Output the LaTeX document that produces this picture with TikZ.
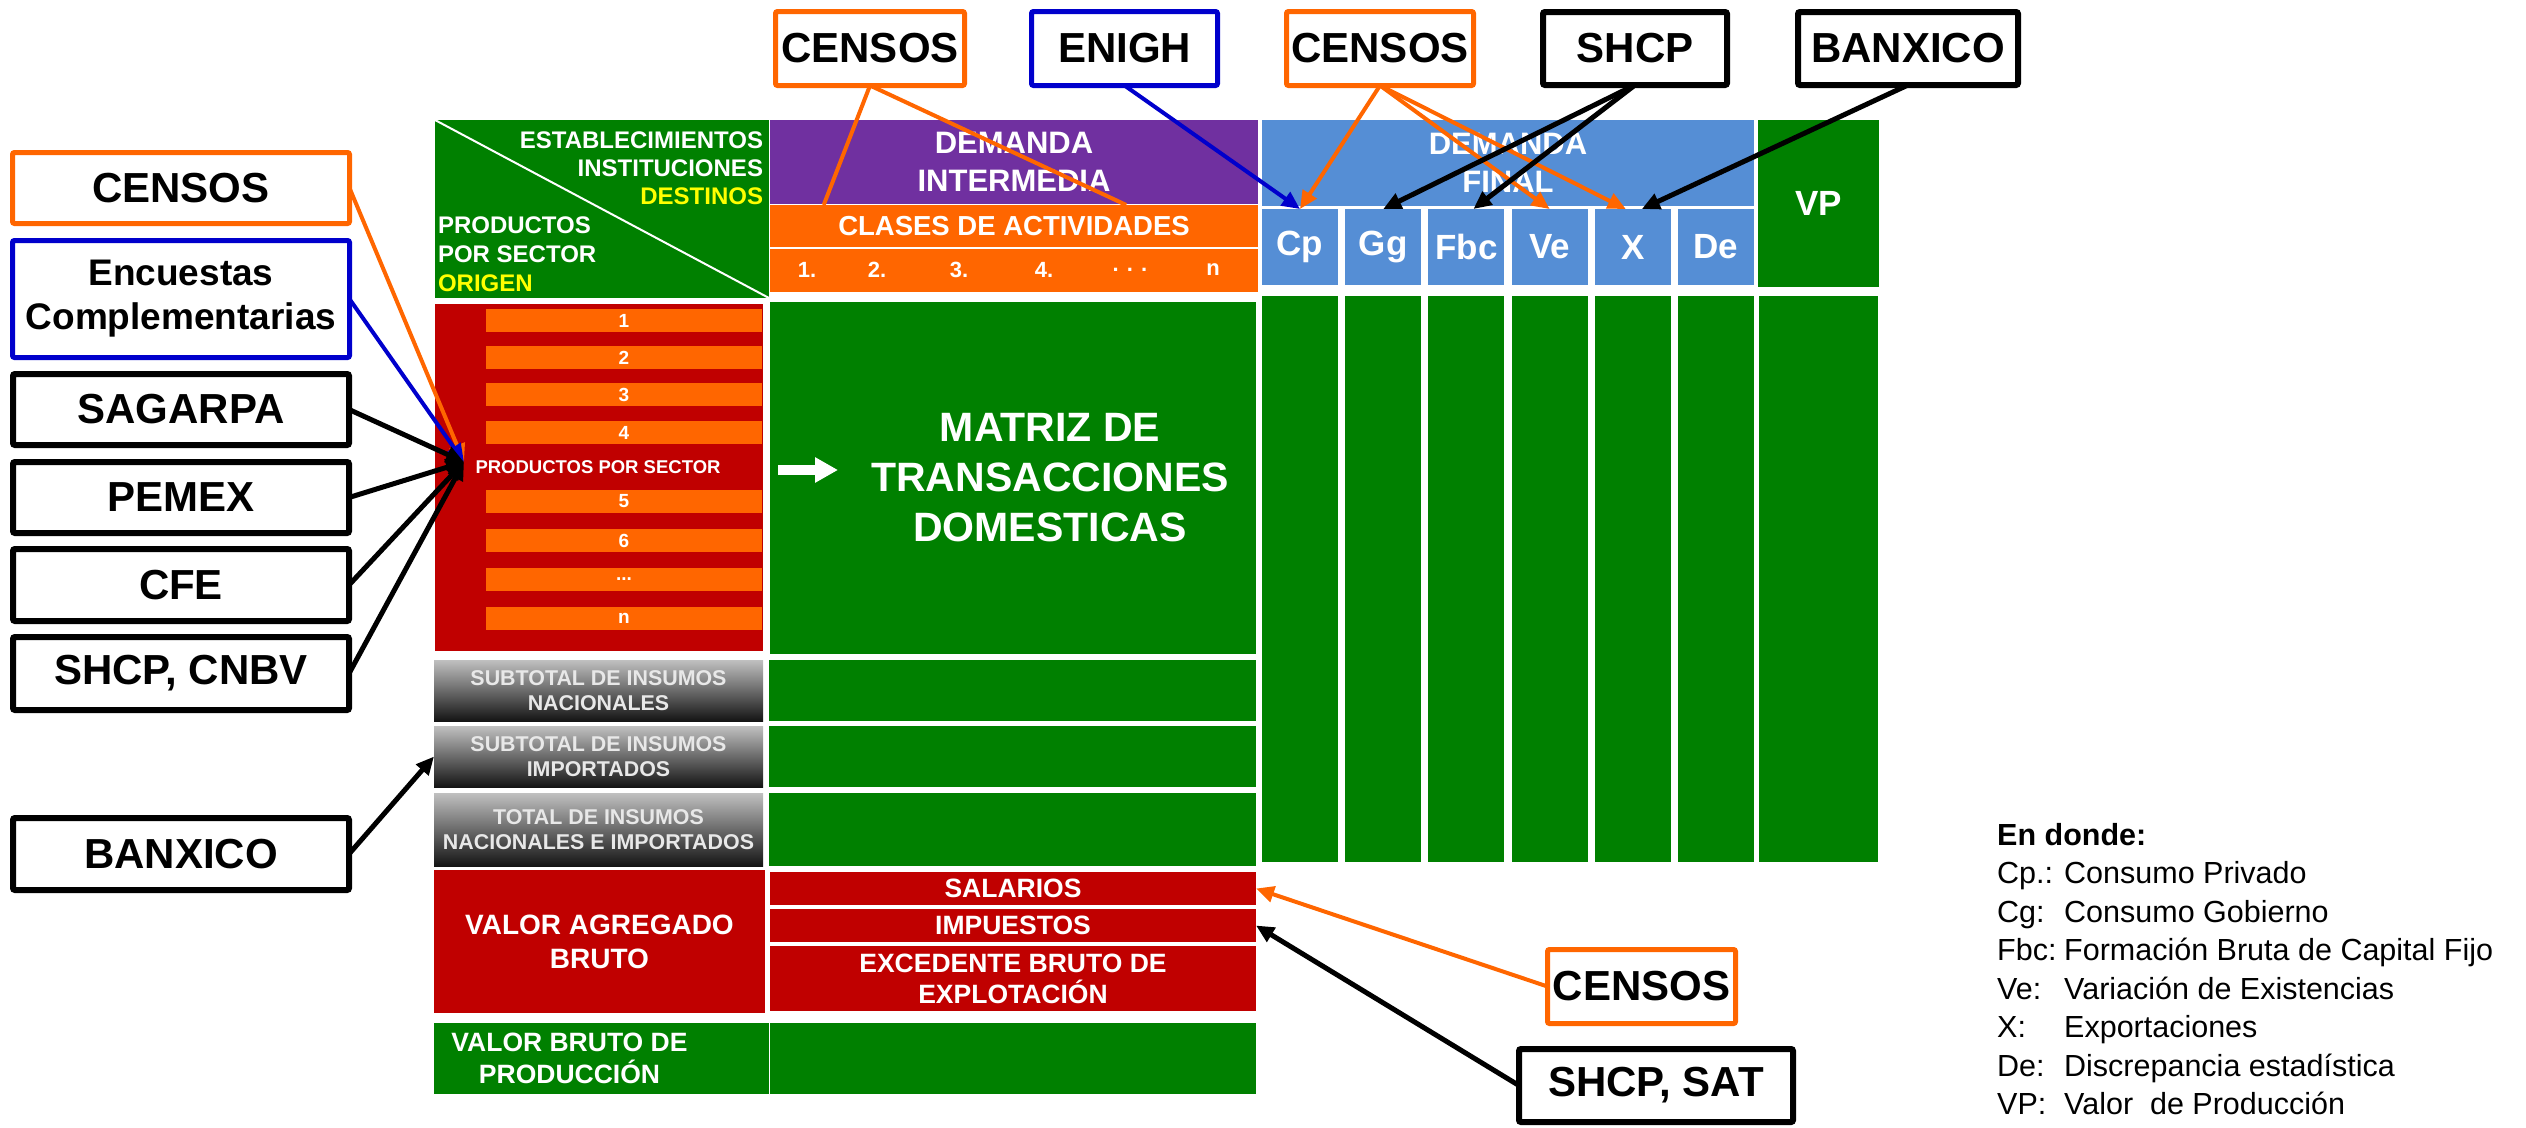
\documentclass[tikz,border=0pt]{standalone}
\usepackage{fontspec}
\setmainfont{Liberation Sans}
\usetikzlibrary{positioning, calc, arrows.meta}
\tikzset{>={Triangle[width=16pt,length=18pt]}}
\definecolor{mipgreen}{RGB}{0,128,0}
\definecolor{mippurple}{RGB}{112,48,160}
\definecolor{miporange}{RGB}{255,102,0}
\definecolor{mipred}{RGB}{192,0,0}
\definecolor{mipblue}{RGB}{85,142,213}
\definecolor{mipnavy}{RGB}{0,0,204}
\definecolor{mipgray}{RGB}{192,192,192}
\definecolor{miptxtgray}{RGB}{232,232,232}
\definecolor{mipyellow}{RGB}{255,255,0}
\newcommand{\fsz}[2]{\fontsize{#1pt}{#2pt}\selectfont}
\newcommand{\bfsz}[2]{\fontsize{#1pt}{#2pt}\selectfont\bfseries}
\def \dfwidth {76pt}
\def \dfgap {7.2pt}
\tikzset{
  cell/.style = {anchor = north west, inner sep = 0pt, outer sep = 0pt, text = white, align = center},
  txt/.style = {inner sep = 0pt, outer sep = 0pt, text = white, align = center},
  dfcell/.style = {cell, fill = mipblue, minimum width = \dfwidth, minimum height = 76pt, font = \bfsz{35}{40}},
  dfcol/.style = {cell, fill = mipgreen, minimum width = \dfwidth, minimum height = 566pt},
  bar/.style = {cell, fill = miporange, minimum width = 276pt, minimum height = 23pt, font = \bfsz{19}{22}},
  graybox/.style = {cell, top color = mipgray, bottom color = black!92, text = miptxtgray, minimum width = 329pt, font = \bfsz{21.4}{25}},
  src/.style = {draw, fill = white, rounded corners = 2pt, inner sep = 0pt, outer sep = 0pt, align = center, text = black, font = \bfsz{42}{48}},
  srcorange/.style = {src, draw = miporange, line width = 5pt},
  srcblue/.style = {src, draw = mipnavy, line width = 5pt},
  srcblack/.style = {src, draw = black, line width = 6pt},
  oline/.style = {draw = miporange, line width = 4pt},
  oarrow/.style = {->, draw = miporange, line width = 4pt},
  narrow/.style = {->, draw = mipnavy, line width = 4pt},
  karrow/.style = {->, draw = black, line width = 5pt}
}

\begin{document}
\begin{tikzpicture}[x = 1pt, y = -1pt]
\useasboundingbox (0,0) rectangle (2526,1127);

% sources, top row
\node (censosa) [srcorange, minimum width = 189pt, minimum height = 74pt] at (870,48.5) {CENSOS};
\node (enigh) [srcblue, right = 67pt of censosa, minimum width = 186pt, minimum height = 74pt] {ENIGH};
\node (censosb) [srcorange, right = 69pt of enigh, minimum width = 187pt, minimum height = 74pt] {CENSOS};
\node (shcpt) [srcblack, right = 69.5pt of censosb, minimum width = 184pt, minimum height = 73pt] {SHCP};
\node (banxicot) [srcblack, right = 71pt of shcpt, minimum width = 220pt, minimum height = 73pt] {BANXICO};

% sources, left column
\node (censosl) [srcorange, minimum width = 337pt, minimum height = 71pt] at (181,188) {CENSOS};
\node (encuestas) [srcblue, below = 17pt of censosl, minimum width = 337pt, minimum height = 117pt, font = \bfsz{37}{44}] {Encuestas\\Complementarias};
\node (sagarpa) [srcblack, below = 16.5pt of encuestas, minimum width = 336pt, minimum height = 71pt] {SAGARPA};
\node (pemex) [srcblack, below = 17pt of sagarpa, minimum width = 336pt, minimum height = 71pt] {PEMEX};
\node (cfe) [srcblack, below = 16pt of pemex, minimum width = 336pt, minimum height = 72pt] {CFE};
\node (shcpcnbv) [srcblack, below = 16pt of cfe, minimum width = 336pt, minimum height = 73pt] {SHCP, CNBV};
\node (banxicol) [srcblack, below = 108pt of shcpcnbv, minimum width = 336pt, minimum height = 72pt] {BANXICO};

% sources, bottom right
\node (censosr) [srcorange, minimum width = 188pt, minimum height = 74pt] at (1641.5,986.5) {CENSOS};
\node (shcpsat) [srcblack, minimum width = 274pt, minimum height = 73pt] at (1656,1085.5) {SHCP, SAT};

% header of the table
\node (corner) [cell, fill = mipgreen, minimum width = 334pt, minimum height = 178pt] at (435,120) {};
\draw[white, line width = 2pt] (corner.north west) -- (corner.south east);
\node (destinos) [txt, anchor = east, align = right, font = \bfsz{24}{28}] at (763,168) {ESTABLECIMIENTOS\\INSTITUCIONES\\\textcolor{mipyellow}{DESTINOS}};
\node (origen) [txt, anchor = west, align = left, font = \bfsz{24}{29}] at (438,254) {PRODUCTOS\\POR SECTOR\\\textcolor{mipyellow}{ORIGEN}};

\node (demint) [cell, fill = mippurple, minimum width = 488pt, minimum height = 84pt, font = \bfsz{31}{38}] at (770,120) {DEMANDA\\INTERMEDIA};
\node (clases) [cell, fill = miporange, minimum width = 488pt, minimum height = 42pt, font = \bfsz{27.5}{32}] at (770,205) {CLASES DE ACTIVIDADES};
\node (nums) [cell, fill = miporange, minimum width = 488pt, minimum height = 43pt] at (770,249) {};
\node (num1) [txt, font = \bfsz{22}{26}] at (807,270) {1.};
\node (num2) [txt, font = \bfsz{22}{26}] at (877,270) {2.};
\node (num3) [txt, font = \bfsz{22}{26}] at (959,270) {3.};
\node (num4) [txt, font = \bfsz{22}{26}] at (1044,270) {4.};
\node (numdots) [txt, font = \bfsz{22}{26}] at (1130,270) {. . .};
\node (numn) [txt, font = \bfsz{22}{26}] at (1213,270) {n};

\node (demfin) [cell, fill = mipblue, minimum width = 492pt, minimum height = 86pt, font = \bfsz{31}{38}] at (1262,120) {DEMANDA\\FINAL};
\node (vp) [cell, fill = mipgreen, minimum width = 121pt, minimum height = 167pt, font = \bfsz{35}{40}] at (1758,120) {VP};
\node (cp) [dfcell] at (1262,209) {Cp};
\node (gg) [dfcell, right = \dfgap of cp] {Gg};
\node (fbc) [dfcell, right = \dfgap of gg] {Fbc};
\node (ve) [dfcell, right = \dfgap of fbc] {Ve};
\node (x) [dfcell, right = \dfgap of ve] {X};
\node (de) [dfcell, right = \dfgap of x] {De};

% final demand columns
\node (cpcol) [dfcol, below = 11pt of cp] {};
\node (ggcol) [dfcol, below = 11pt of gg] {};
\node (fbccol) [dfcol, below = 11pt of fbc] {};
\node (vecol) [dfcol, below = 11pt of ve] {};
\node (xcol) [dfcol, below = 11pt of x] {};
\node (decol) [dfcol, below = 11pt of de] {};
\node (vpcol) [dfcol, below = 9pt of vp, minimum width = 119pt] {};

% products by sector
\node (products) [cell, fill = mipred, minimum width = 328pt, minimum height = 347pt] at (435,304) {};
\node (bar1) [bar] at (486,309) {1};
\node (bar2) [bar, below = 14pt of bar1] {2};
\node (bar3) [bar, below = 14pt of bar2] {3};
\node (bar4) [bar, below = 15pt of bar3] {4};
\node (bar5) [bar, below = 46pt of bar4] {5};
\node (bar6) [bar, below = 16pt of bar5] {6};
\node (bar7) [bar, below = 16pt of bar6] {...};
\node (barn) [bar, below = 16pt of bar7] {n};
\node (prodtxt) [txt, font = \bfsz{18.5}{22}] at (598,467) {PRODUCTOS POR SECTOR};

\node (matriz) [cell, fill = mipgreen, minimum width = 486pt, minimum height = 352pt] at (770,302) {};
\node (matriztxt) [txt, font = \bfsz{41}{50}] at ($(matriz.center)+(37,0)$) {MATRIZ DE\\TRANSACCIONES\\DOMESTICAS};
\draw[white, line width = 10pt, -{Triangle[length = 23pt, width = 24pt]}] ($(matriz.west)+(8,-8)$) -- ++(60,0);

% inputs
\node (subnac) [graybox, minimum height = 61pt] at (434,660) {SUBTOTAL DE INSUMOS\\NACIONALES};
\node (subimp) [graybox, minimum height = 61pt] at (434,726) {SUBTOTAL DE INSUMOS\\IMPORTADOS};
\node (totins) [graybox, minimum height = 73pt] at (434,793) {TOTAL DE INSUMOS\\NACIONALES E IMPORTADOS};
\node (subnacg) [cell, fill = mipgreen, right = 6pt of subnac, minimum width = 487pt, minimum height = 61pt] {};
\node (subimpg) [cell, fill = mipgreen, right = 6pt of subimp, minimum width = 487pt, minimum height = 61pt] {};
\node (totinsg) [cell, fill = mipgreen, right = 6pt of totins, minimum width = 487pt, minimum height = 73pt] {};

% value added
\node (vab) [cell, fill = mipred, minimum width = 331pt, minimum height = 143pt, font = \bfsz{28}{34}] at (434,870) {VALOR AGREGADO\\BRUTO};
\node (salarios) [cell, fill = mipred, minimum width = 486pt, minimum height = 33pt, font = \bfsz{26.5}{31}] at (770,872) {SALARIOS};
\node (impuestos) [cell, fill = mipred, below = 4pt of salarios, minimum width = 486pt, minimum height = 33pt, font = \bfsz{26.5}{31}] {IMPUESTOS};
\node (excedente) [cell, fill = mipred, below = 4pt of impuestos, minimum width = 486pt, minimum height = 65pt, font = \bfsz{26.5}{31}] {EXCEDENTE BRUTO DE\\EXPLOTACIÓN};

\node (vbpl) [cell, fill = mipgreen, minimum width = 335pt, minimum height = 71pt] at (434,1023) {};
\node (vbpr) [cell, fill = mipgreen, right = 1pt of vbpl, minimum width = 486pt, minimum height = 71pt] {};
\node (vbptxt) [txt, font = \bfsz{26.5}{32}] at ($(vbpl.center)+(-32,0)$) {VALOR BRUTO DE\\PRODUCCIÓN};

% legend
\node (legend) [anchor = north west, inner sep = 0pt, align = left, font = \fsz{30.5}{38.5}] at (1997,823) {\textbf{En donde:}\\
\makebox[67pt][l]{Cp.:}Consumo Privado\\
\makebox[67pt][l]{Cg:}Consumo Gobierno\\
\makebox[67pt][l]{Fbc:}Formación Bruta de Capital Fijo\\
\makebox[67pt][l]{Ve:}Variación de Existencias\\
\makebox[67pt][l]{X:}Exportaciones\\
\makebox[67pt][l]{De:}Discrepancia estadística\\
\makebox[67pt][l]{VP:}Valor\ \ de Producción};

% connectors
\draw[oline] (censosa.south) -- ($(clases.north west)!0.11!(clases.north east)$);
\draw[oline] (censosa.south) -- ($(clases.north west)!0.73!(clases.north east)$);
\draw[narrow] (enigh.south) -- (cp.north);
\draw[oarrow] (censosb.south) -- (cp.north);
\draw[oarrow] (censosb.south) -- (ve.north);
\draw[oarrow] (censosb.south) -- ([xshift = -7pt] x.north);
\draw[karrow] (shcpt.south) -- (gg.north);
\draw[karrow] (shcpt.south) -- ([xshift = 7pt] fbc.north);
\draw[karrow] (banxicot.south) -- ([xshift = 9pt] x.north);

\coordinate (prodtip) at (464,462);
\draw[oarrow] (censosl.east) -- (prodtip);
\draw[narrow] (encuestas.east) -- (prodtip);
\draw[karrow] (sagarpa.east) -- (prodtip);
\draw[karrow] (pemex.east) -- (prodtip);
\draw[karrow] (cfe.east) -- (prodtip);
\draw[karrow] (shcpcnbv.east) -- (prodtip);
\draw[karrow] (banxicol.east) -- (subimp.west);

\draw[oarrow] (censosr.west) -- (salarios.east);
\draw[karrow] (shcpsat.west) -- (impuestos.east);

\end{tikzpicture}
\end{document}
